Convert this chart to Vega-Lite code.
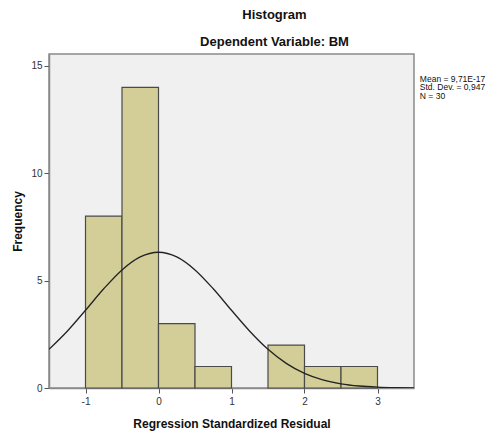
{
  "$schema": "https://vega.github.io/schema/vega-lite/v6.json",
  "width": 365,
  "height": 334,
  "autosize": {"type": "none"},
  "padding": {"left": 49, "top": 54, "right": 81, "bottom": 44},
  "background": "white",
  "config": {
    "font": "Liberation Sans",
    "view": {"fill": "#F0F0F0", "stroke": "#8a8a8a", "strokeWidth": 1.5},
    "axis": {
      "grid": false,
      "domainColor": "#8a8a8a",
      "domainWidth": 1.5,
      "tickColor": "#555555",
      "tickSize": 5,
      "labelFont": "Liberation Sans",
      "labelFontSize": 10,
      "labelColor": "#333333",
      "titleFont": "Liberation Sans",
      "titleFontSize": 12,
      "titleFontWeight": "bold",
      "titleColor": "#111111"
    }
  },
  "title": {
    "text": "Histogram",
    "subtitle": "Dependent Variable: BM",
    "font": "Liberation Sans",
    "fontSize": 13,
    "fontWeight": "bold",
    "color": "#111111",
    "subtitleFont": "Liberation Sans",
    "subtitleFontSize": 13,
    "subtitleFontWeight": "bold",
    "subtitleColor": "#111111",
    "subtitlePadding": 14,
    "anchor": "middle",
    "dx": 43,
    "offset": 5
  },
  "datasets": {
    "bins": [
      {"bin_start": -1.0, "bin_end": -0.5, "count": 8},
      {"bin_start": -0.5, "bin_end": 0.0, "count": 14},
      {"bin_start": 0.0, "bin_end": 0.5, "count": 3},
      {"bin_start": 0.5, "bin_end": 1.0, "count": 1},
      {"bin_start": 1.5, "bin_end": 2.0, "count": 2},
      {"bin_start": 2.0, "bin_end": 2.5, "count": 1},
      {"bin_start": 2.5, "bin_end": 3.0, "count": 1}
    ],
    "curve": [
      {"x": -1.5, "y": 1.802},
      {"x": -1.25, "y": 2.645},
      {"x": -1.0, "y": 3.618},
      {"x": -0.75, "y": 4.618},
      {"x": -0.5, "y": 5.497},
      {"x": -0.25, "y": 6.102},
      {"x": 0.0, "y": 6.319},
      {"x": 0.25, "y": 6.102},
      {"x": 0.5, "y": 5.497},
      {"x": 0.75, "y": 4.618},
      {"x": 1.0, "y": 3.618},
      {"x": 1.25, "y": 2.645},
      {"x": 1.5, "y": 1.802},
      {"x": 1.75, "y": 1.146},
      {"x": 2.0, "y": 0.679},
      {"x": 2.25, "y": 0.376},
      {"x": 2.5, "y": 0.194},
      {"x": 2.75, "y": 0.093},
      {"x": 3.0, "y": 0.042},
      {"x": 3.25, "y": 0.0175},
      {"x": 3.5, "y": 0.0068}
    ],
    "stats": [
      {"label": "Mean = 9,71E-17|Std. Dev. = 0,947|N = 30", "x": 3.58, "y": 14.58}
    ]
  },
  "layer": [
    {
      "data": {"name": "bins"},
      "mark": {"type": "rect", "fill": "#D3CE97", "stroke": "#4a4a4a", "strokeWidth": 1.2},
      "encoding": {
        "x": {
          "field": "bin_start", "type": "quantitative",
          "scale": {"domain": [-1.5, 3.5], "nice": false, "zero": false},
          "axis": {"values": [-1, 0, 1, 2, 3], "labelExpr": "'' + datum.value", "title": "Regression Standardized Residual", "titlePadding": 12, "labelPadding": 3}
        },
        "x2": {"field": "bin_end"},
        "y": {
          "field": "count", "type": "quantitative",
          "scale": {"domain": [0, 15.55], "nice": false},
          "axis": {"values": [0, 5, 10, 15], "format": "d", "title": "Frequency", "titlePadding": 6, "labelPadding": 2}
        },
        "y2": {"datum": 0}
      }
    },
    {
      "data": {"name": "curve"},
      "mark": {"type": "line", "color": "#222222", "strokeWidth": 1.3, "interpolate": "monotone", "clip": true},
      "encoding": {
        "x": {"field": "x", "type": "quantitative"},
        "y": {"field": "y", "type": "quantitative"}
      }
    },
    {
      "data": {"name": "stats"},
      "mark": {"type": "text", "align": "left", "baseline": "top", "fontSize": 8.5, "lineHeight": 8.5, "lineBreak": "|", "color": "#111111", "font": "Liberation Sans"},
      "encoding": {
        "x": {"field": "x", "type": "quantitative"},
        "y": {"field": "y", "type": "quantitative"},
        "text": {"field": "label"}
      }
    }
  ]
}
